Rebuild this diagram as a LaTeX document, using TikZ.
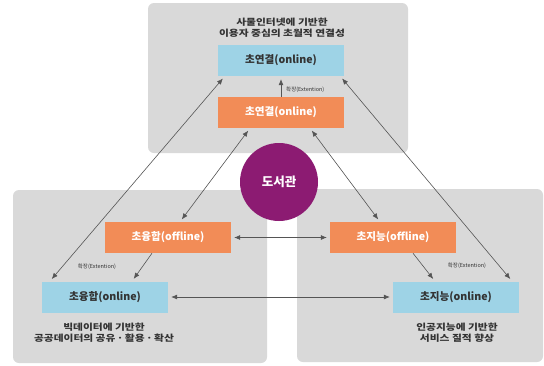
\documentclass[tikz,border=0pt]{standalone}
\usepackage{fontspec}
\newfontfamily\kr{Noto Sans CJK KR}
\newfontfamily\krw[FakeStretch=1.22]{Noto Sans CJK KR}
\usetikzlibrary{arrows.meta}
\definecolor{panelgray}{HTML}{D9D9D9}
\definecolor{boxblue}{HTML}{9ED3E6}
\definecolor{boxorange}{HTML}{F28C57}
\definecolor{libpurple}{HTML}{8C1B72}
\definecolor{linegray}{HTML}{555555}
\definecolor{txtgray}{HTML}{333333}
\tikzset{
  panel/.style={fill=panelgray, rounded corners=6pt, draw=none},
  bluebox/.style={fill=boxblue, minimum width=126pt, minimum height=31pt, inner sep=0pt,
    font=\kr\bfseries\fontsize{10.6}{12}\selectfont, text=txtgray},
  orangebox/.style={fill=boxorange, minimum width=126pt, minimum height=31pt, inner sep=0pt,
    font=\kr\bfseries\fontsize{10.6}{12}\selectfont, text=white},
  caption/.style={font=\krw\bfseries\fontsize{8.8}{10.6}\selectfont, text=txtgray, align=center, inner sep=0pt},
  extlabel/.style={font=\kr\fontsize{5.5}{6}\selectfont, text=txtgray, inner sep=0pt},
  link/.style={draw=linegray, line width=0.6pt, {Latex[length=6pt,width=5pt]}-{Latex[length=6pt,width=5pt]}, shorten >=3pt, shorten <=3pt},
  ext/.style={draw=linegray, line width=0.6pt, -{Latex[length=6pt,width=5pt]}, shorten >=3pt}
}
\begin{document}
\begin{tikzpicture}[x=1pt,y=-1pt]
\useasboundingbox (0,0) rectangle (544,365);
\fill[white] (0,0) rectangle (544,365);
% panels
\path[panel] (148,3) rectangle (408,153);
\path[panel] (13,190) rectangle (267,363);
\path[panel] (297,189) rectangle (543,362);
% captions
\node[caption] (capt) at (282,28) {사물인터넷에 기반한\\이용자 중심의 초월적 연결성};
\node[caption] (capl) at (104,333) {빅데이터에 기반한\\공공데이터의 공유\,·\,활용\,·\,확산};
\node[caption] (capr) at (457,333) {인공지능에 기반한\\서비스 질적 향상};
% boxes
\node[bluebox] (bt) at (281,60.5) {초연결(online)};
\node[orangebox] (ot) at (281,112.5) {초연결(online)};
\node[orangebox] (lo) at (168,237.5) {초융합(offline)};
\node[bluebox] (bl) at (105,297) {초융합(online)};
\node[orangebox] (ro) at (393,237.5) {초지능(offline)};
\node[bluebox] (br) at (456,297) {초지능(online)};
% library circle
\node[circle, fill=libpurple, minimum size=78pt, inner sep=0pt, text=white,
  font=\kr\bfseries\fontsize{12.5}{14}\selectfont] (lib) at (279,182) {도서관};
% extension arrows
\draw[ext] (ot.north) -- (bt.south);
\node[extlabel, anchor=west] (et) at (286,90) {확장(Extention)};
\draw[ext] ([xshift=-16pt]lo.south) -- ([xshift=27pt]bl.north);
\node[extlabel] (el) at (97,267) {확장(Extention)};
\draw[ext] ([xshift=20pt]ro.south) -- ([xshift=-21pt]br.north);
\node[extlabel] (er) at (467,266) {확장(Extention)};
% links
\draw[link] ([xshift=-31pt]ot.south) -- ([xshift=12pt]lo.north);
\draw[link] ([xshift=29pt]ot.south) -- ([xshift=-13pt]ro.north);
\draw[link] ([xshift=7pt]bt.south west) -- ([xshift=8pt]bl.north west);
\draw[link] ([xshift=-4pt]bt.south east) -- ([xshift=-7pt]br.north east);
\draw[link] (lo.east) -- (ro.west);
\draw[link] (bl.east) -- (br.west);
\end{tikzpicture}
\end{document}
